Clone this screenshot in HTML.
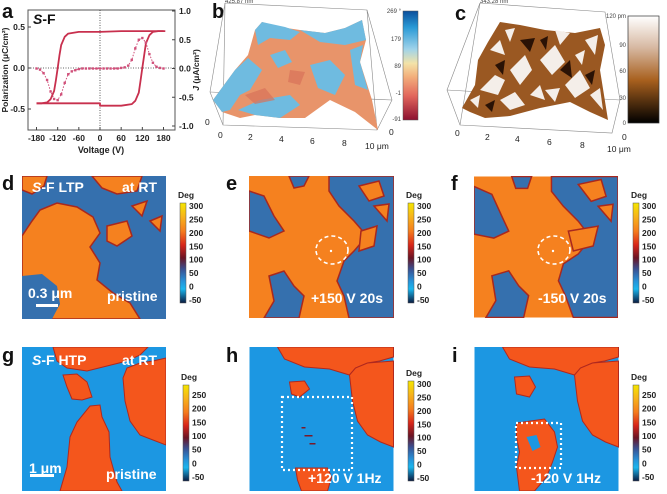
<!DOCTYPE html>
<html><head><meta charset="utf-8"><style>
html,body{margin:0;padding:0;background:#fff;}
svg{display:block;font-family:"Liberation Sans",Arial,sans-serif;}
.tk{font-size:8.5px;fill:#222;}
.lb{font-size:20px;font-weight:bold;fill:#111;}
.ov{font-size:14px;font-weight:bold;fill:#fff;}
.cb{font-size:8.5px;font-weight:bold;fill:#222;}
.sm{font-size:6px;fill:#444;}
</style></head><body>
<svg id="fig" width="667" height="494" viewBox="0 0 667 494">
<defs>
 <linearGradient id="phase1" x1="0" y1="0" x2="0" y2="1">
  <stop offset="0" stop-color="#f5e600"/><stop offset="0.14" stop-color="#f7b21c"/><stop offset="0.28" stop-color="#f57d1e"/>
  <stop offset="0.42" stop-color="#d8261a"/><stop offset="0.55" stop-color="#6a1424"/><stop offset="0.66" stop-color="#3a4f90"/>
  <stop offset="0.78" stop-color="#2791d8"/><stop offset="0.86" stop-color="#1ab6ee"/><stop offset="1" stop-color="#0a1a40"/>
 </linearGradient>
 <linearGradient id="phase2" x1="0" y1="0" x2="0" y2="1">
  <stop offset="0" stop-color="#0b4f9c"/><stop offset="0.15" stop-color="#2a9ad6"/><stop offset="0.35" stop-color="#9fd3ea"/>
  <stop offset="0.48" stop-color="#f3e3a8"/><stop offset="0.6" stop-color="#f3b07c"/><stop offset="0.78" stop-color="#e2665c"/><stop offset="1" stop-color="#8c1030"/>
 </linearGradient>
 <linearGradient id="brown" x1="0" y1="0" x2="0" y2="1">
  <stop offset="0" stop-color="#ffffff"/><stop offset="0.3" stop-color="#d6b7a0"/><stop offset="0.6" stop-color="#a8601e"/><stop offset="1" stop-color="#000"/>
 </linearGradient>
</defs>

<!-- Panel a -->
<g>
 <text class="lb" x="2" y="18">a</text>
 <rect x="28" y="10" width="147" height="120" fill="none" stroke="#555" stroke-width="1"/>
 <g id="aplot"></g>
 <text x="33" y="24" font-size="14" font-weight="bold" fill="#111"><tspan font-style="italic">S</tspan>-F</text>
 <text x="101" y="153" font-size="9" font-weight="bold" text-anchor="middle" fill="#222">Voltage (V)</text>
 <text transform="translate(8,70) rotate(-90)" font-size="8.5" font-weight="bold" text-anchor="middle" fill="#222">Polarization (μC/cm²)</text>
 <text transform="translate(199,70) rotate(-90)" font-size="8.5" font-weight="bold" text-anchor="middle" fill="#222"><tspan font-style="italic">J</tspan> (μA/cm²)</text>
</g>

<!-- Panel b -->
<g>
 <text class="lb" x="212" y="18">b</text>
 <g fill="none" stroke="#888" stroke-width="0.6">
  <polyline points="225,3 367,10 392,100 377,130 223,125 210,92 225,3"/>
  <line x1="225" y1="3" x2="223" y2="125"/><line x1="367" y1="10" x2="377" y2="130"/><line x1="210" y1="92" x2="392" y2="100"/>
 </g>
 <polygon fill="#e8946a" points="213,100 235,70 248,55 255,30 262,22 280,27 300,30 325,33 345,28 362,20 366,40 360,62 372,100 378,130 355,112 330,100 305,118 280,118 255,115 240,118 222,112"/>
 <g fill="#6fbbe0">
  <polygon points="255,30 262,22 285,27 300,32 290,40 270,38 258,45"/>
  <polygon points="300,30 325,33 345,28 362,20 366,40 345,45 320,42"/>
  <polygon points="213,100 235,70 248,58 262,70 250,90 240,95 230,110 222,112"/>
  <polygon points="238,110 260,100 290,95 300,105 280,118 255,115"/>
  <polygon points="310,65 330,60 345,75 335,95 318,88"/>
  <polygon points="350,50 363,45 360,62 368,90 355,85"/>
  <polygon points="270,55 285,50 292,62 278,68"/>
 </g>
 <g fill="#d9725a" opacity="0.7"><polygon points="245,95 265,88 275,100 255,104"/><polygon points="290,70 305,72 300,85 288,82"/></g>
 <text class="sm" x="225" y="3">425.87 nm</text>
 <g class="tk"><text x="218" y="138">0</text><text x="248" y="140">2</text><text x="279" y="142">4</text><text x="310" y="144">6</text><text x="342" y="146">8</text><text x="365" y="149">10 μm</text><text x="205" y="125">0</text><text x="389" y="135">0</text></g>
 <rect x="403" y="11" width="15" height="109" fill="url(#phase2)" stroke="#555" stroke-width="0.5"/>
 <g class="sm" text-anchor="end" font-size="6"><text x="401" y="13">269 °</text><text x="401" y="41">179</text><text x="401" y="68">89</text><text x="401" y="95">-1</text><text x="401" y="121">-91</text></g>
</g>

<!-- Panel c -->
<g>
 <text class="lb" x="455" y="20">c</text>
 <g fill="none" stroke="#888" stroke-width="0.6">
  <polyline points="480,3 605,12 620,100 612,133 460,125 447,90 480,3"/>
  <line x1="480" y1="3" x2="460" y2="125"/><line x1="447" y1="90" x2="620" y2="100"/>
 </g>
 <polygon fill="#9a5822" points="462,108 475,85 478,60 488,42 500,22 520,25 545,30 575,33 600,28 605,45 600,70 608,120 590,112 570,102 540,108 510,116 485,118 470,112"/>
 <g fill="#f4eee9">
  <polygon points="480,90 495,75 505,80 498,95"/><polygon points="510,70 525,55 532,70 520,85"/><polygon points="540,60 555,45 565,62 552,75"/>
  <polygon points="565,85 580,70 590,88 575,98"/><polygon points="500,100 515,92 525,105 510,110"/><polygon points="545,90 560,88 555,102"/>
  <polygon points="585,40 598,35 595,55"/><polygon points="490,50 500,40 505,55"/>
  <polygon points="470,100 480,95 478,108"/><polygon points="530,95 540,85 545,100"/><polygon points="590,95 600,88 603,110"/>
  <polygon points="555,30 570,33 560,45"/><polygon points="505,30 515,28 510,42"/><polygon points="575,55 585,50 582,65"/>
 </g>
 <g fill="#2a1205"><polygon points="520,40 535,38 530,52"/><polygon points="560,70 570,60 572,78"/><polygon points="485,105 495,100 492,112"/><polygon points="495,65 505,60 503,75"/><polygon points="585,75 595,70 592,85"/><polygon points="540,40 548,36 546,50"/></g>
 <text class="sm" x="480" y="3">343.28 nm</text>
 <g class="tk"><text x="455" y="136">0</text><text x="485" y="140">2</text><text x="515" y="142">4</text><text x="547" y="145">6</text><text x="580" y="148">8</text><text x="607" y="152">10 μm</text><text x="622" y="140">0</text></g>
 <rect x="628" y="16" width="31" height="107" fill="url(#brown)" stroke="#333" stroke-width="0.7"/>
 <g class="sm" text-anchor="end"><text x="626" y="18">120 pm</text><text x="626" y="47">90</text><text x="626" y="73">60</text><text x="626" y="100">30</text><text x="626" y="125">0</text></g>
</g>

<!-- Row 2 -->
<g>
 <text class="lb" x="2" y="190">d</text>
 <svg x="22" y="176" width="144" height="143" viewBox="0 0 144 143">
  <rect width="144" height="143" fill="#3570ae"/>
  <g fill="#f5811f" stroke="#a8281e" stroke-width="1.5">
   <path d="M0,60 L10,45 L18,34 L35,27 L55,31 L71,41 L78,57 L68,71 L78,87 L75,104 L91,117 L108,127 L118,143 L0,143Z"/>
   <path d="M0,0 L25,0 L22,10 L10,18 L0,14Z"/>
   <path d="M70,0 L120,0 L115,15 L95,18 L80,12Z"/>
   <path d="M85,50 L105,45 L110,60 L95,70 L85,65Z"/>
   <path d="M110,30 L125,25 L120,40Z"/><path d="M128,45 L140,40 L138,55Z"/>
  </g>
  <path d="M0,100 L20,98 L35,110 L38,128 L30,143 L0,143Z" fill="#3570ae"/>
  <rect x="14" y="128" width="22" height="3" fill="#fff"/>
 </svg>
 <text class="ov" x="32" y="192"><tspan font-style="italic">S</tspan>-F  LTP</text>
 <text class="ov" x="122" y="192">at RT</text>
 <text class="ov" x="28" y="298" font-size="12">0.3 μm</text>
 <text class="ov" x="107" y="301">pristine</text>
</g>
<g>
 <text class="lb" x="226" y="190">e</text>
 <svg x="249" y="176" width="145" height="142" viewBox="0 0 145 142">
  <rect width="145" height="142" fill="#f5811f"/>
  <g fill="#3570ae" stroke="#a8281e" stroke-width="1.5">
   <path d="M80,0 L145,0 L145,142 L100,142 L95,120 L88,105 L95,85 L105,75 L118,60 L105,45 L90,30 L80,15Z"/>
   <path d="M0,15 L15,20 L25,40 L35,55 L20,62 L0,55Z"/>
   <path d="M20,100 L35,95 L45,110 L55,120 L50,142 L15,142 L25,125Z"/>
   <path d="M40,0 L60,0 L55,10 L45,12Z"/>
  </g>
  <g fill="#f5811f" stroke="#a8281e" stroke-width="1.5">
   <path d="M110,10 L130,5 L135,20 L120,25Z"/><path d="M112,55 L128,50 L125,70 L110,75Z"/><path d="M125,30 L140,28 L138,45Z"/>
  </g>
 </svg>
 <ellipse cx="332" cy="250" rx="16" ry="14" fill="none" stroke="#fff" stroke-width="1.6" stroke-dasharray="4,3"/>
 <circle cx="331" cy="251" r="1.2" fill="#fff"/>
 <text class="ov" x="311" y="303">+150 V 20s</text>
</g>
<g>
 <text class="lb" x="451" y="190">f</text>
 <svg x="474" y="176" width="144" height="142" viewBox="0 0 145 142">
  <rect width="145" height="142" fill="#f5811f"/>
  <g fill="#3570ae" stroke="#a8281e" stroke-width="1.5">
   <path d="M78,0 L145,0 L145,142 L100,142 L92,120 L85,105 L90,88 L105,78 L118,62 L105,45 L90,30 L78,15Z"/>
   <path d="M0,10 L18,18 L28,40 L35,55 L20,62 L0,58Z"/>
   <path d="M18,100 L35,95 L45,110 L55,120 L50,142 L12,142 L22,125Z"/>
   <path d="M38,0 L58,0 L54,12 L42,12Z"/>
  </g>
  <g fill="#f5811f" stroke="#a8281e" stroke-width="1.5">
   <path d="M105,8 L128,3 L133,20 L118,25Z"/><path d="M95,55 L125,50 L120,70 L100,75Z"/><path d="M125,30 L140,28 L138,45Z"/>
  </g>
 </svg>
 <ellipse cx="554" cy="250" rx="16" ry="14" fill="none" stroke="#fff" stroke-width="1.6" stroke-dasharray="4,3"/>
 <circle cx="553" cy="251" r="1.2" fill="#fff"/>
 <text class="ov" x="538" y="303">-150 V 20s</text>
</g>

<!-- Row 3 -->
<g>
 <text class="lb" x="2" y="362">g</text>
 <svg x="22" y="347" width="144" height="144" viewBox="0 0 144 144">
  <rect width="144" height="144" fill="#1c97e2"/>
  <g fill="#f4561c" stroke="#b0281e" stroke-width="1">
   <path d="M31,0 L126,0 L118,8 L105,14 L85,19 L65,24 L45,21 L35,14Z"/>
   <path d="M101,31 L105,21 L118,16 L131,14 L144,11 L144,98 L131,93 L118,88 L108,74 L103,54Z"/>
   <path d="M41,28 L55,27 L65,35 L70,50 L60,53 L50,52 L45,40Z"/>
   <path d="M68,59 L78,58 L80,70 L87,85 L88,110 L95,135 L100,144 L38,144 L45,120 L48,90 L55,75Z"/>
  </g>
  <rect x="8" y="127" width="24" height="3" fill="#fff"/>
 </svg>
 <text class="ov" x="32" y="365"><tspan font-style="italic">S</tspan>-F  HTP</text>
 <text class="ov" x="122" y="365">at RT</text>
 <text class="ov" x="29" y="473" font-size="12">1 μm</text>
 <text class="ov" x="106" y="479">pristine</text>
</g>
<g>
 <text class="lb" x="226" y="362">h</text>
 <svg x="249" y="347" width="145" height="144" viewBox="0 0 144 144">
  <rect width="144" height="144" fill="#1c97e2"/>
  <g fill="#f4561c" stroke="#b0281e" stroke-width="1">
   <path d="M28,0 L144,0 L144,10 L130,14 L118,16 L106,21 L100,28 L80,22 L55,20 L35,12Z"/>
   <path d="M100,28 L106,21 L118,16 L144,14 L144,100 L131,95 L118,88 L108,74 L103,54Z"/>
   <path d="M40,35 L55,34 L60,42 L50,50 L42,47Z"/>
   <path d="M46,121 L78,121 L82,130 L78,144 L52,144 L48,133Z"/>
  </g>
  <g fill="#7a1a28"><rect x="55" y="88" width="8" height="1.5"/><rect x="60" y="96" width="6" height="1.5"/><rect x="52" y="80" width="4" height="1.5"/></g>
 </svg>
 <rect x="282" y="397" width="70" height="73" fill="none" stroke="#fff" stroke-width="2.2" stroke-dasharray="2,3"/>
 <text class="ov" x="308" y="483">+120 V 1Hz</text>
</g>
<g>
 <text class="lb" x="452" y="362">i</text>
 <svg x="474" y="347" width="145" height="144" viewBox="0 0 144 144">
  <rect width="144" height="144" fill="#1c97e2"/>
  <g fill="#f4561c" stroke="#b0281e" stroke-width="1">
   <path d="M28,0 L144,0 L144,10 L130,14 L118,16 L106,21 L100,28 L80,22 L55,20 L35,12Z"/>
   <path d="M100,28 L106,21 L118,16 L144,14 L144,100 L131,95 L118,88 L108,74 L103,54Z"/>
   <path d="M40,30 L55,29 L61,40 L55,50 L42,47Z"/>
   <path d="M42,76 L70,72 L80,85 L83,100 L78,115 L72,130 L60,144 L45,144 L42,120 L45,105 L42,90Z"/>
  </g>
  <path d="M52,90 L62,88 L66,100 L58,104Z" fill="#1c97e2"/>
 </svg>
 <rect x="516" y="423" width="45" height="45" fill="none" stroke="#fff" stroke-width="2.2" stroke-dasharray="2,3"/>
 <text class="ov" x="531" y="483">-120 V 1Hz</text>
</g>

<g id="cbars"></g>
</svg>
<script>
// ---- Panel a data ----
const upV = [180,150,120,60,0,-60,-90,-100,-110,-115,-120,-125,-130,-140,-150,-165,-180];
const upP = [0.45,0.45,0.45,0.45,0.44,0.44,0.42,0.38,0.28,0.15,0.0,-0.15,-0.28,-0.38,-0.42,-0.43,-0.43];
const loV = [-180,-150,-120,-60,-0.1,0.1,60,90,100,110,115,120,125,130,140,150,165,185];
const loP = [-0.43,-0.43,-0.43,-0.43,-0.43,-0.46,-0.46,-0.44,-0.40,-0.30,-0.15,0.0,0.15,0.30,0.40,0.44,0.45,0.45];
const jV = [-180,-170,-160,-150,-140,-130,-120,-110,-100,-90,-80,-70,-60,-50,-40,-30,-20,-10,0,10,20,30,40,50,60,70,80,90,100,110,120,130,140,150,160,170,180];
const jJ = [0,-0.02,-0.08,-0.2,-0.4,-0.53,-0.55,-0.45,-0.25,-0.1,-0.05,-0.03,-0.01,0,0,0,0,0,0,0,0,0,0,0,0.01,0.02,0.05,0.15,0.35,0.5,0.53,0.45,0.25,0.1,0.03,0.01,0];
const xTicks = [-180,-120,-60,0,60,120,180];
const pTicks = [0.5,0.0,-0.5];
const pTickLabels = ["0.5","0.0","-0.5"];
const jTicks = [1.0,0.5,0.0,-0.5,-1.0];
const jTickLabels = ["1.0","0.5","0.0","-0.5","-1.0"];

const NS = "http://www.w3.org/2000/svg";
const X = v => 100 + v * 0.3528;
const YP = p => 68 - p * 82;
const YJ = j => 68.5 - j * 57.5;
const ap = document.getElementById('aplot');
function mk(tag, attrs, parent){ const e=document.createElementNS(NS,tag); for(const k in attrs) e.setAttribute(k,attrs[k]); (parent||ap).appendChild(e); return e; }

let el = mk('line',{x1:X(0),y1:10,x2:X(0),y2:130,stroke:'#333','stroke-width':0.8,'stroke-dasharray':'1,1.5'});


el = mk('line',{x1:28,y1:YP(0),x2:175,y2:YP(0),stroke:'#333','stroke-width':0.8,'stroke-dasharray':'1,1.5'});



xTicks.forEach(v=>{
  mk('line',{x1:X(v),y1:130,x2:X(v),y2:127,stroke:'#444'});
  const t = mk('text',{x:X(v),y:141,'text-anchor':'middle',class:'tk','font-weight':'bold'});
  t.textContent = v;
  
  
});
pTicks.forEach((p,i)=>{
  mk('line',{x1:28,y1:YP(p),x2:31,y2:YP(p),stroke:'#444'});
  const t = mk('text',{x:25,y:YP(p)+3,'text-anchor':'end',class:'tk','font-weight':'bold'});
  t.textContent = pTickLabels[i];
  
  
});
jTicks.forEach((j,i)=>{
  mk('line',{x1:175,y1:YJ(j),x2:172,y2:YJ(j),stroke:'#444'});
  const t = mk('text',{x:179,y:YJ(j)+3,class:'tk','font-weight':'bold'});
  t.textContent = jTickLabels[i];
  
  
});
function line(vs, ps, name){
  const d = vs.map((v,i)=>(i?'L':'M')+X(v).toFixed(1)+','+YP(ps[i]).toFixed(1)).join(' ');
  const p = mk('path',{d:d,fill:'none',stroke:'#c8304e','stroke-width':1.8,'stroke-linejoin':'round'});
  
  
}
line(upV, upP, 'pe-loop-upper-branch');
line(loV, loP, 'pe-loop-lower-branch');
const jd = jV.map((v,i)=>(i?'L':'M')+X(v).toFixed(1)+','+YJ(jJ[i]).toFixed(1)).join(' ');
el = mk('path',{d:jd,fill:'none',stroke:'#d0507a','stroke-width':1,'stroke-dasharray':'1.5,1.5'});


jV.forEach((v,i)=>{
  const r = mk('rect',{x:X(v)-1.2,y:YJ(jJ[i])-1.2,width:2.4,height:2.4,fill:'#d0507a'});
  
  
});

// ---- Phase colorbars ----
const cbars = document.getElementById('cbars');
const bar8 = ["300","250","200","150","100","50","0","-50"];
const bar7 = ["250","200","150","100","50","0","-50"];
const bars = [
  {x:180,y:203,h:100,labels:bar8,name:'colorbar-d'},
  {x:408,y:203,h:100,labels:bar8,name:'colorbar-e'},
  {x:633,y:203,h:100,labels:bar8,name:'colorbar-f'},
  {x:183,y:385,h:96,labels:bar7,name:'colorbar-g'},
  {x:408,y:381,h:100,labels:bar8,name:'colorbar-h'},
  {x:633,y:385,h:96,labels:bar7,name:'colorbar-i'}
];
bars.forEach(b=>{
  const r = mk('rect',{x:b.x,y:b.y,width:6,height:b.h,fill:'url(#phase1)',stroke:'#555','stroke-width':0.5},cbars);
  
  
  const dg = mk('text',{x:b.x-2,y:b.y-5,class:'cb'},cbars); dg.textContent='Deg';
  const n = b.labels.length;
  b.labels.forEach((l,i)=>{
    const yy = b.y + (n===8 ? 3 + i*(b.h-6)/(n-1) : 10 + i*(b.h-14)/(n-1));
    const t = mk('text',{x:b.x+9,y:yy+3,class:'cb'},cbars); t.textContent=l;
    
    
  });
});
</script>
</body></html>
